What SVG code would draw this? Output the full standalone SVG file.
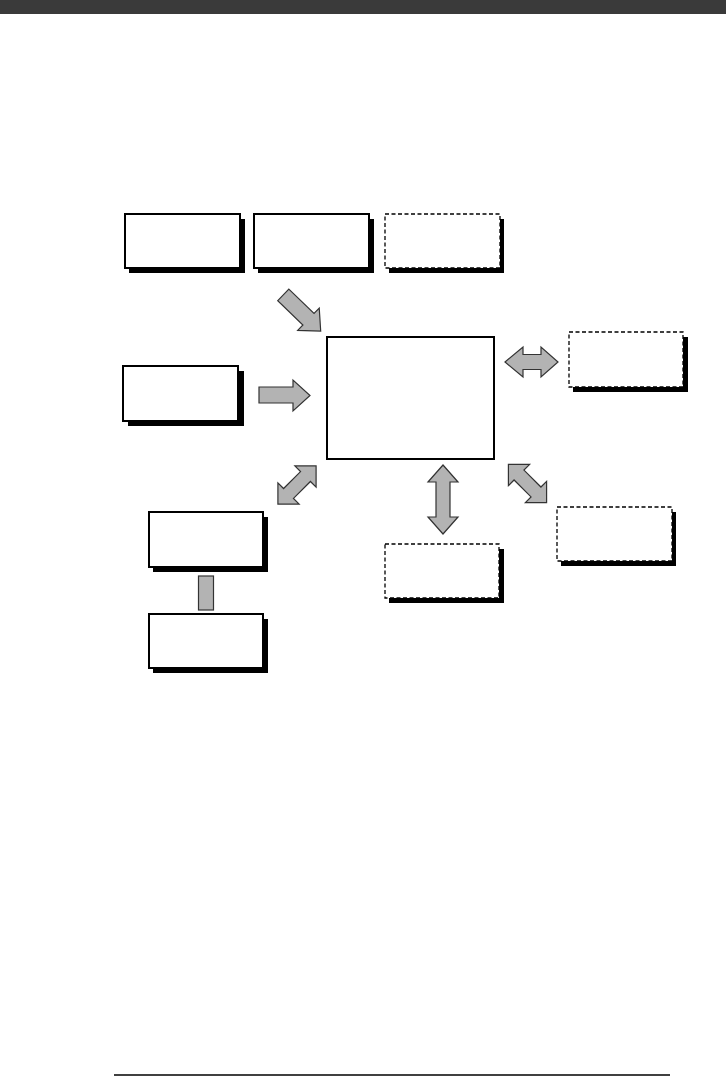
<svg xmlns="http://www.w3.org/2000/svg" width="726" height="1076" viewBox="0 0 726 1076">
<style>
.box{fill:#fff;stroke:#000;stroke-width:2}
.dash{fill:#fff;stroke:#000;stroke-width:1.3;stroke-dasharray:4 2.5}
.sh{fill:#000}
.arr{fill:#b3b3b3;stroke:#333;stroke-width:1.2;stroke-linejoin:miter}
</style>
<rect x="0" y="0" width="726" height="14" fill="#3a3a3a"/>
<line x1="114" y1="1075" x2="670" y2="1075" stroke="#000" stroke-width="1.5"/>
<g id="n1"><rect class="sh" x="129" y="219" width="116" height="54"/><rect class="box" x="125" y="214" width="115" height="54"/></g>
<g id="n2"><rect class="sh" x="258" y="219" width="116" height="54"/><rect class="box" x="254" y="214" width="115" height="54"/></g>
<g id="n3"><rect class="sh" x="389" y="219" width="115" height="54"/><rect class="dash" x="385" y="214" width="115" height="54"/></g>
<g id="n4"><rect class="sh" x="128" y="371" width="116" height="55"/><rect class="box" x="123" y="366" width="115" height="55"/></g>
<g id="center"><rect class="box" x="327" y="337" width="167" height="122" stroke-width="2.5"/></g>
<g id="n5"><rect class="sh" x="573" y="337" width="115" height="55"/><rect class="dash" x="569" y="332" width="114" height="55"/></g>
<g id="n6"><rect class="sh" x="153" y="517" width="115" height="55"/><rect class="box" x="149" y="512" width="114" height="55"/></g>
<g id="n7"><rect class="sh" x="153" y="619" width="115" height="54"/><rect class="box" x="149" y="614" width="114" height="54"/></g>
<g id="n8"><rect class="sh" x="389" y="549" width="115" height="54"/><rect class="dash" x="385" y="544" width="114" height="54"/></g>
<g id="n9"><rect class="sh" x="561" y="512" width="115" height="54"/><rect class="dash" x="557" y="507" width="115" height="54"/></g>
<g id="connectors">
<polygon class="arr" points="259,387 293,387 293,380 310,395.5 293,411 293,403 259,403"/>
<polygon class="arr" transform="translate(302,313) rotate(44)" points="-26,-8 9,-8 9,-15.5 26,0 9,15.5 9,8 -26,8"/>
<polygon class="arr" points="505,362 523,347 523,354.5 541,354.5 541,347 558,362 541,377 541,369.5 523,369.5 523,377"/>
<polygon class="arr" points="443,465 458,482 450,482 450,517 458,517 443,534 428,517 436,517 436,482 428,482"/>
<polygon class="arr" transform="translate(297,485) rotate(-45)" points="-27,0 -12,-15 -12,-7 12,-7 12,-15 27,0 12,15 12,7 -12,7 -12,15"/>
<polygon class="arr" transform="translate(527.5,483.5) rotate(45)" points="-27,0 -12,-15 -12,-7 12,-7 12,-15 27,0 12,15 12,7 -12,7 -12,15"/>
<rect class="arr" x="198.5" y="576" width="15" height="34"/>
</g>
</svg>
